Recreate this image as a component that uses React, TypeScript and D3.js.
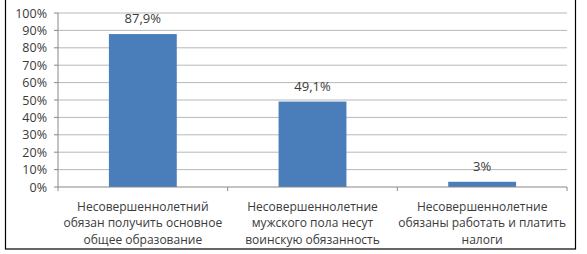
import React from "react";
import * as d3 from "d3";

const categories: string[][] = [
  ["Несовершеннолетний", "обязан получить основное", "общее образование"],
  ["Несовершеннолетние", "мужского пола несут", "воинскую обязанность"],
  ["Несовершеннолетние", "обязаны работать и платить", "налоги"],
];
const values: number[] = [87.9, 49.1, 3];
const valueLabels: string[] = ["87,9%", "49,1%", "3%"];
const yTicks: number[] = [0, 10, 20, 30, 40, 50, 60, 70, 80, 90, 100];

const W = 587;
const H = 254;
const FONT = "'Open Sans', 'Noto Sans', sans-serif";
const TEXT = "#3a3a3a";

export default function App() {
  const left = 58;
  const right = 567;
  const top = 13;
  const bottom = 187;
  const ids = categories.map((_, i) => String(i));
  const x = d3.scaleBand<string>().domain(ids).range([left, right]).paddingInner(0).paddingOuter(0);
  const y = d3.scaleLinear().domain([0, 100]).range([bottom, top]);
  const bw = x.bandwidth() / 2.5;
  const boundaries = [...ids.map((id) => x(id)!), right];

  return (
    <svg
      width={W}
      height={H}
      style={{ position: "absolute", left: 0, top: 0, background: "#fff" }}
      fontFamily={FONT}
    >
      <rect x={0} y={0} width={W} height={H} fill="#fff" />
      {/* frame */}
      <rect x={5.5} y={-2} width={570} height={251} fill="none" stroke="#000" strokeWidth={1.2} />
      {/* gridlines */}
      {yTicks.map((t) =>
        t === 0 ? null : (
          <line key={"g" + t} x1={left} x2={right} y1={y(t)} y2={y(t)} stroke="#b8b8b8" strokeWidth={1} />
        )
      )}
      {/* y axis */}
      <line x1={left} x2={left} y1={top} y2={bottom} stroke="#888" strokeWidth={1} />
      {yTicks.map((t) => (
        <g key={"t" + t}>
          <line x1={left - 4} x2={left} y1={y(t)} y2={y(t)} stroke="#888" strokeWidth={1} />
          <text x={47} y={y(t) + 4.5} textAnchor="end" fontSize={12.5} fill={TEXT}>
            {t + "%"}
          </text>
        </g>
      ))}
      {/* bars */}
      {values.map((v, i) => {
        const cx = x(ids[i])! + x.bandwidth() / 2;
        return (
          <g key={"b" + i}>
            <rect x={cx - bw / 2} y={y(v)} width={bw} height={bottom - y(v)} fill="#4a7ebb" />
            <text x={cx} y={y(v) - 11} textAnchor="middle" fontSize={13} fill={TEXT}>
              {valueLabels[i]}
            </text>
          </g>
        );
      })}
      {/* x axis */}
      <line x1={left} x2={right} y1={bottom} y2={bottom} stroke="#888" strokeWidth={1} />
      {boundaries.map((b, i) => (
        <line key={"xt" + i} x1={b} x2={b} y1={bottom} y2={bottom + 4} stroke="#888" strokeWidth={1} />
      ))}
      {categories.map((lines, i) => {
        const cx = x(ids[i])! + x.bandwidth() / 2;
        return (
          <text key={"c" + i} textAnchor="middle" fontSize={12} fill={TEXT}>
            {lines.map((l, j) => (
              <tspan key={j} x={cx} y={211 + j * 16.3}>
                {l}
              </tspan>
            ))}
          </text>
        );
      })}
    </svg>
  );
}
